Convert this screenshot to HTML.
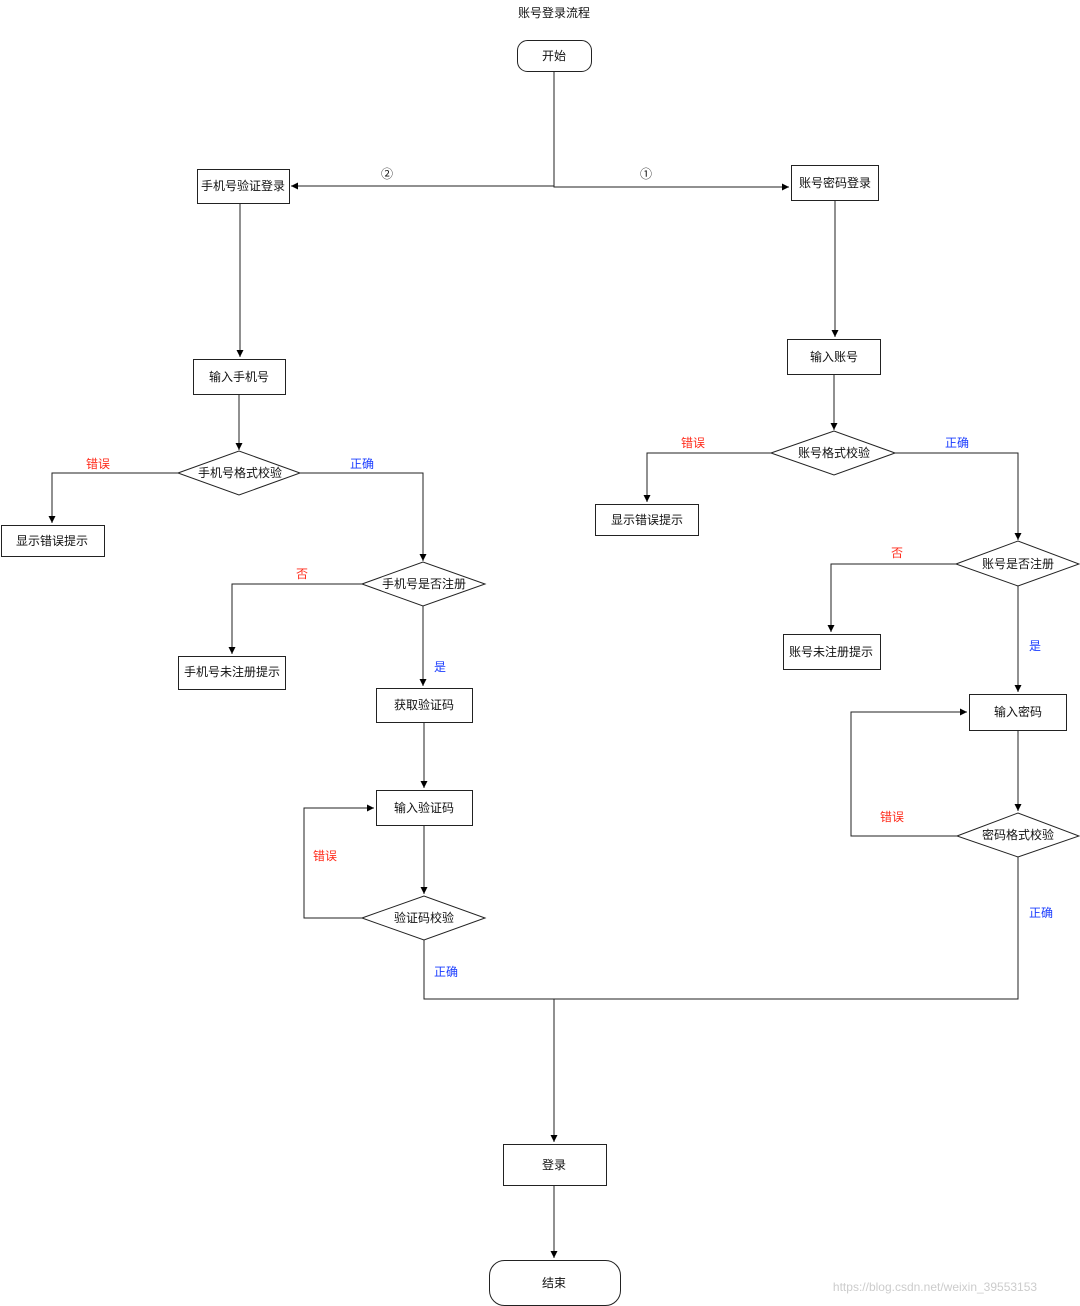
<!DOCTYPE html>
<html><head><meta charset="utf-8"><style>
html,body{margin:0;padding:0;background:#fff;}
svg{display:block;}
text{font-family:"Liberation Sans","Noto Sans CJK SC",sans-serif;font-size:12px;}
</style></head><body>
<svg width="1080" height="1306" viewBox="0 0 1080 1306" xmlns="http://www.w3.org/2000/svg">
<defs><marker id="a" markerWidth="8" markerHeight="8" refX="7" refY="4" orient="auto" markerUnits="userSpaceOnUse"><path d="M0,0.5 L7,4 L0,7.5 Z" fill="#000"/></marker></defs>
<g fill="none" stroke="#222" stroke-width="1">
<path d="M554,71 V186 H291" marker-end="url(#a)"/>
<path d="M554,186 V187 H789" marker-end="url(#a)"/>
<path d="M240,203 V357" marker-end="url(#a)"/>
<path d="M239,394 V450" marker-end="url(#a)"/>
<path d="M178,473 H52 V523" marker-end="url(#a)"/>
<path d="M300,473 H423 V561" marker-end="url(#a)"/>
<path d="M362,584 H232 V654" marker-end="url(#a)"/>
<path d="M423,606 V686" marker-end="url(#a)"/>
<path d="M424,722 V788" marker-end="url(#a)"/>
<path d="M424,825 V894" marker-end="url(#a)"/>
<path d="M362,918 H304 V808 H374" marker-end="url(#a)"/>
<path d="M424,940 V999 H1018 V857"/>
<path d="M835,200 V337" marker-end="url(#a)"/>
<path d="M834,374 V430" marker-end="url(#a)"/>
<path d="M771,453 H647 V502" marker-end="url(#a)"/>
<path d="M895,453 H1018 V540" marker-end="url(#a)"/>
<path d="M956,564 H831 V632" marker-end="url(#a)"/>
<path d="M1018,586 V692" marker-end="url(#a)"/>
<path d="M1018,730 V811" marker-end="url(#a)"/>
<path d="M957,836 H851 V712 H967" marker-end="url(#a)"/>
<path d="M554,999 V1142" marker-end="url(#a)"/>
<path d="M554,1185 V1258" marker-end="url(#a)"/>
<rect x="517.5" y="40.5" width="74" height="31" rx="10" fill="#fff"/>
<rect x="197.5" y="169.5" width="92" height="34" fill="#fff"/>
<rect x="791.5" y="165.5" width="87" height="35" fill="#fff"/>
<rect x="193.5" y="359.5" width="92" height="35" fill="#fff"/>
<polygon points="178,473 239,451 300,473 239,495" fill="#fff"/>
<rect x="1.5" y="525.5" width="103" height="31" fill="#fff"/>
<polygon points="362,584 423,562 485,584 423,606" fill="#fff"/>
<rect x="178.5" y="656.5" width="107" height="33" fill="#fff"/>
<rect x="376.5" y="688.5" width="96" height="34" fill="#fff"/>
<rect x="376.5" y="790.5" width="96" height="35" fill="#fff"/>
<polygon points="362,918 424,896 485,918 424,940" fill="#fff"/>
<rect x="787.5" y="339.5" width="93" height="35" fill="#fff"/>
<polygon points="771,453 834,431 895,453 834,475" fill="#fff"/>
<rect x="595.5" y="504.5" width="103" height="31" fill="#fff"/>
<polygon points="956,564 1018,541 1079,564 1018,586" fill="#fff"/>
<rect x="783.5" y="634.5" width="97" height="35" fill="#fff"/>
<rect x="969.5" y="694.5" width="97" height="36" fill="#fff"/>
<polygon points="957,836 1018,813 1079,836 1018,857" fill="#fff"/>
<rect x="503.5" y="1144.5" width="103" height="41" fill="#fff"/>
<rect x="489.5" y="1260.5" width="131" height="45" rx="15" fill="#fff"/>
</g>
<g fill="#111" text-anchor="middle" dominant-baseline="central">
<text x="554" y="13">账号登录流程</text>
<text x="554" y="56">开始</text>
<text x="243" y="186">手机号验证登录</text>
<text x="835" y="183">账号密码登录</text>
<text x="239" y="377">输入手机号</text>
<text x="240" y="473">手机号格式校验</text>
<text x="52" y="541">显示错误提示</text>
<text x="424" y="584">手机号是否注册</text>
<text x="232" y="672">手机号未注册提示</text>
<text x="424" y="705">获取验证码</text>
<text x="424" y="808">输入验证码</text>
<text x="424" y="918">验证码校验</text>
<text x="834" y="357">输入账号</text>
<text x="834" y="453">账号格式校验</text>
<text x="647" y="520">显示错误提示</text>
<text x="1018" y="564">账号是否注册</text>
<text x="831" y="652">账号未注册提示</text>
<text x="1018" y="712">输入密码</text>
<text x="1018" y="835">密码格式校验</text>
<text x="554" y="1165">登录</text>
<text x="554" y="1283">结束</text>
<text x="387" y="174" font-size="13">②</text>
<text x="646" y="174" font-size="13">①</text>
</g>
<g text-anchor="middle" dominant-baseline="central">
<text x="98" y="464" fill="#ff2a1a">错误</text>
<text x="302" y="574" fill="#ff2a1a">否</text>
<text x="325" y="856" fill="#ff2a1a">错误</text>
<text x="693" y="443" fill="#ff2a1a">错误</text>
<text x="897" y="553" fill="#ff2a1a">否</text>
<text x="892" y="817" fill="#ff2a1a">错误</text>
<text x="362" y="464" fill="#1a3cff">正确</text>
<text x="440" y="667" fill="#1a3cff">是</text>
<text x="446" y="972" fill="#1a3cff">正确</text>
<text x="957" y="443" fill="#1a3cff">正确</text>
<text x="1035" y="646" fill="#1a3cff">是</text>
<text x="1041" y="913" fill="#1a3cff">正确</text>
<text x="935" y="1287" fill="#ccc" font-size="15">https://blog.csdn.net/weixin_39553153</text>
</g>
</svg>
</body></html>
